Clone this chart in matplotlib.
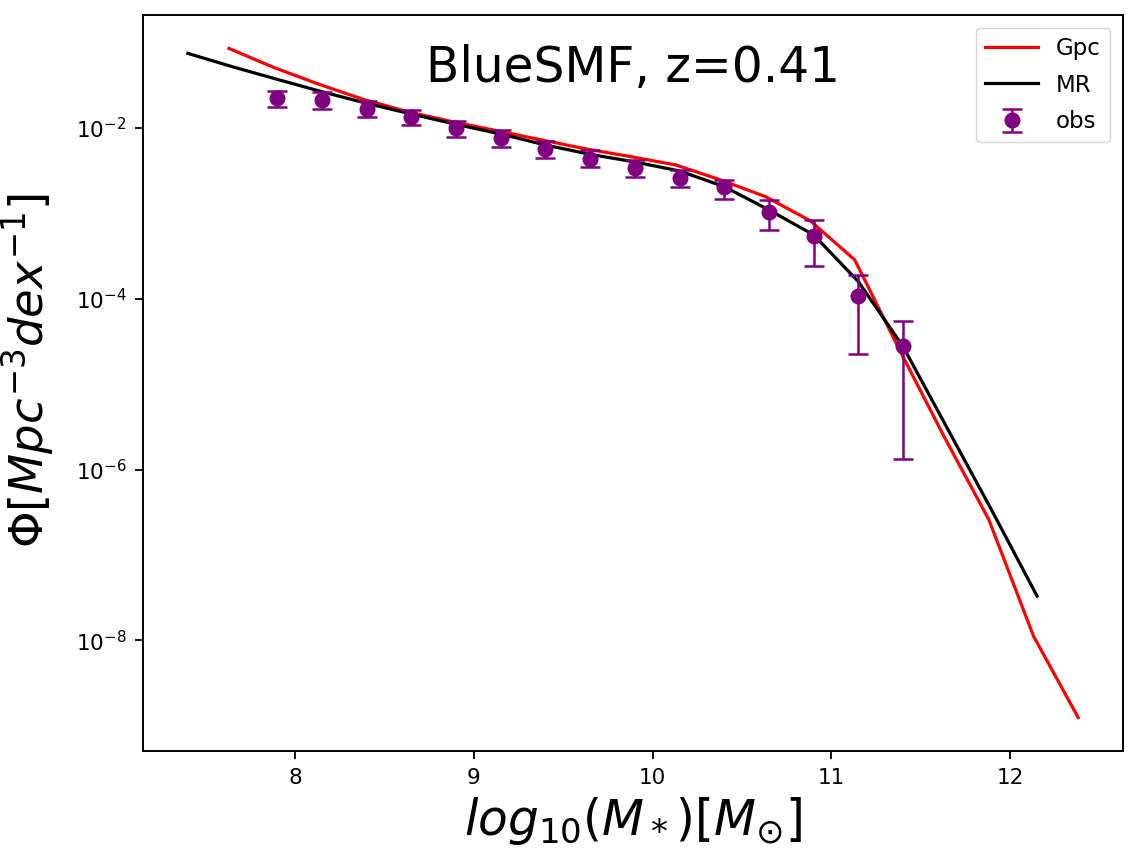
import numpy as np
import matplotlib
matplotlib.use('Agg')
import matplotlib.pyplot as plt
from matplotlib.ticker import LogLocator, NullLocator

# Gpc model (log10 phi)
gpc_mass = [7.63, 7.88, 8.13, 8.38, 8.63, 8.88, 9.13, 9.38, 9.63, 9.88,
            10.13, 10.38, 10.63, 10.88, 11.13, 11.38, 11.63, 11.88, 12.13, 12.38]
gpc_logphi = [-1.068, -1.290, -1.485, -1.664, -1.809, -1.926, -2.032, -2.140, -2.246, -2.336,
              -2.433, -2.608, -2.803, -3.084, -3.544, -4.596, -5.614, -6.585, -7.950, -8.904]

# MR model (log10 phi)
mr_mass = [7.40, 7.65, 7.90, 8.15, 8.40, 8.65, 8.90, 9.15, 9.40, 9.65,
           9.90, 10.15, 10.40, 10.65, 10.90, 11.15, 11.40, 11.65, 11.90, 12.15]
mr_logphi = [-1.126, -1.283, -1.430, -1.575, -1.711, -1.836, -1.957, -2.070, -2.199, -2.308,
             -2.398, -2.503, -2.687, -2.959, -3.251, -3.798, -4.558, -5.525, -6.491, -7.482]

# observations (log10 phi, upper, lower)
obs_mass = [7.90, 8.15, 8.40, 8.65, 8.90, 9.15, 9.40, 9.65, 9.90, 10.15, 10.40, 10.65, 10.90, 11.15, 11.40]
obs_logphi = [-1.653, -1.672, -1.778, -1.875, -2.004, -2.120, -2.249, -2.359, -2.472, -2.589,
              -2.694, -2.979, -3.263, -3.973, -4.550]
obs_hi = [-1.567, -1.582, -1.684, -1.789, -1.918, -2.023, -2.152, -2.257, -2.374, -2.491,
          -2.608, -2.842, -3.078, -3.719, -4.261]
obs_lo = [-1.751, -1.774, -1.875, -1.968, -2.102, -2.226, -2.351, -2.453, -2.570, -2.687,
          -2.830, -3.196, -3.614, -4.643, -5.880]

phi = 10 ** np.array(obs_logphi)
yerr = [phi - 10 ** np.array(obs_lo), 10 ** np.array(obs_hi) - phi]

fig = plt.figure(figsize=(11.27, 8.66), dpi=100)
ax = fig.add_axes([0.1272, 0.1328, 0.869, 0.8499])

ax.plot(gpc_mass, 10 ** np.array(gpc_logphi), color='red', lw=2.3, label='Gpc')
ax.plot(mr_mass, 10 ** np.array(mr_logphi), color='black', lw=2.3, label='MR')
ax.errorbar(obs_mass, phi, yerr=yerr, fmt='o', color='purple', ms=10.5,
            elinewidth=1.8, capsize=7, capthick=1.8, label='obs')
ax.set_yscale('log')
ax.yaxis.set_major_locator(LogLocator(base=100))
ax.yaxis.set_minor_locator(NullLocator())

ax.text(0.5, 0.909, 'BlueSMF, z=0.41', transform=ax.transAxes,
        ha='center', va='baseline', fontsize=35)

ax.set_xlabel(r'$log_{10}(M_*)[M_{\odot}]$', fontsize=35)
ax.set_ylabel(r'$\Phi[Mpc^{-3}dex^{-1}]$', fontsize=33.5)
ax.xaxis.set_label_coords(0.5, -0.06)
ax.yaxis.set_label_coords(-0.089, 0.516)

ax.tick_params(labelsize=15.5, length=6, width=1.3, pad=6)
for s in ax.spines.values():
    s.set_linewidth(1.4)

ax.legend(loc='upper right', fontsize=16.5, handlelength=2.3, handletextpad=0.8,
          labelspacing=0.6, borderaxespad=0.55)

plt.savefig('out.png', dpi=100)
